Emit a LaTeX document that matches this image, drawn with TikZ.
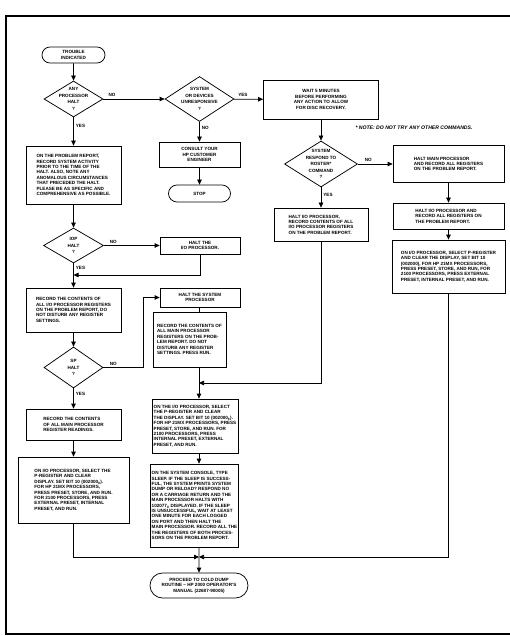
\documentclass[tikz,border=0pt]{standalone}
\usepackage{fontspec}
\setmainfont{Liberation Sans}
\usetikzlibrary{arrows.meta,shapes.geometric,shapes.misc}

\begin{document}
\begin{tikzpicture}[x=1pt, y=-1pt, >={Triangle[length=5pt,width=4.5pt]},
   line width=0.75pt, font=\fontsize{4.6}{5.4}\selectfont\bfseries,
   box/.style={draw, align=left, inner sep=1pt},
   cbox/.style={box, align=center},
   term/.style={draw, rounded rectangle, align=center, inner sep=1pt},
   decide/.style={draw, diamond, inner sep=-12pt, align=center,
                  font=\fontsize{4.6}{6.6}\selectfont\bfseries},
   lbl/.style={font=\fontsize{4.6}{5.4}\selectfont\bfseries, inner sep=1pt}]
  \useasboundingbox (0,0) rectangle (510,636);
  \draw[line width=2pt] (514,16) -- (6,16) -- (6,634) -- (514,634);

  % left column
  \node[term, minimum width=65, minimum height=16] (trouble) at (73.5,55) {TROUBLE\\INDICATED};
  \node[decide, minimum width=59, minimum height=36] (anyhalt) at (73.5,99) {ANY\\PROCESSOR\\HALT\\?};
  \node[box, minimum width=95, minimum height=58] (record) at (73.5,175)
    {ON THE PROBLEM REPORT,\\RECORD SYSTEM ACTIVITY\\PRIOR TO THE TIME OF THE\\HALT. ALSO, NOTE ANY\\ANOMALOUS CIRCUMSTANCES\\THAT PRECEDED THE HALT.\\PLEASE BE AS SPECIFIC AND\\COMPREHENSIVE AS POSSIBLE.};
  \node[decide, minimum width=60, minimum height=35] (iophalt) at (73.5,245.5) {IOP\\HALT\\?};
  \node[box, minimum width=95, minimum height=44] (recio) at (73.5,310)
    {RECORD THE CONTENTS OF\\ALL I/O PROCESSOR REGISTERS\\ON THE PROBLEM REPORT, DO\\NOT DISTURB ANY REGISTER\\SETTINGS.};
  \node[decide, minimum width=59, minimum height=41] (sphalt) at (73.5,367.5) {SP\\HALT\\?};
  \node[box, minimum width=95, minimum height=31] (recreg) at (73.5,424.5)
    {RECORD THE CONTENTS\\OF ALL MAIN PROCESSOR\\REGISTER READINGS.};
  \node[box, minimum width=111, minimum height=66] (lselect) at (73.5,490)
    {ON I/O PROCESSOR, SELECT THE\\P-REGISTER AND CLEAR\\DISPLAY. SET BIT 10 (002000\textsubscript{8}).\\FOR HP 21MX PROCESSORS,\\PRESS PRESET, STORE, AND RUN.\\FOR 2100 PROCESSORS, PRESS\\EXTERNAL PRESET, INTERNAL\\PRESET, AND RUN.};

  % middle column
  \node[decide, minimum width=69, minimum height=45] (sysdown) at (199.5,99) {SYSTEM\\OR DEVICES\\UNRESPONSIVE\\?};
  \node[cbox, minimum width=81, minimum height=25] (consult) at (199.5,154.5) {CONSULT YOUR\\HP CUSTOMER\\ENGINEER};
  \node[term, minimum width=64, minimum height=17] (stop) at (199.5,193.5) {STOP};
  \node[cbox, minimum width=80, minimum height=17] (haltio) at (200,245.5) {HALT THE\\I/O PROCESSOR.};
  \node[cbox, minimum width=80, minimum height=19] (haltsp) at (200,297.5) {HALT THE SYSTEM\\PROCESSOR};
  \node[box, minimum width=73, minimum height=55] (recmain) at (189.5,339.5)
    {RECORD THE CONTENTS OF\\ALL MAIN PROCESSOR\\REGISTERS ON THE PROB-\\LEM REPORT. DO NOT\\DISTURB ANY REGISTER\\SETTINGS.  PRESS RUN.};
  \node[box, minimum width=86, minimum height=54] (selio) at (195,426)
    {ON THE I/O PROCESSOR, SELECT\\THE P-REGISTER AND CLEAR\\THE DISPLAY.  SET BIT 10 (002000\textsubscript{8}).\\FOR HP 21MX PROCESSORS, PRESS\\PRESET, STORE, AND RUN.  FOR\\2100 PROCESSORS, PRESS\\INTERNAL PRESET, EXTERNAL\\PRESET, AND RUN.};
  \node[box, minimum width=85, minimum height=83] (sleep) at (194.5,505.5)
    {ON THE SYSTEM CONSOLE, TYPE\\SLEEP. IF THE SLEEP IS SUCCESS-\\FUL, THE SYSTEM PRINTS SYSTEM\\DUMP OR RELOAD? RESPOND NO\\OR A CARRIAGE RETURN AND THE\\MAIN PROCESSOR HALTS WITH\\102077\textsubscript{8} DISPLAYED. IF THE SLEEP\\IS UNSUCCESSFUL, WAIT AT LEAST\\ONE MINUTE FOR EACH LOGGED\\ON PORT AND THEN HALT THE\\MAIN PROCESSOR. RECORD ALL THE\\THE REGISTERS OF BOTH PROCES-\\SORS ON THE PROBLEM REPORT.};
  \node[term, minimum width=100, minimum height=25] (coldump) at (199,585.5)
    {PROCEED TO COLD DUMP\\ROUTINE -- HP 2000 OPERATOR'S\\MANUAL (22687-90005)};

  % right columns
  \node[cbox, minimum width=115, minimum height=39] (wait) at (321,99.5)
    {WAIT 5 MINUTES\\BEFORE PERFORMING\\ANY ACTION TO ALLOW\\FOR DISC RECOVERY.};
  \node[lbl, font=\fontsize{5.1}{5.4}\selectfont\bfseries\itshape] (note) at (414,128) {* NOTE: DO NOT TRY ANY OTHER COMMANDS.};
  \node[decide, minimum width=73, minimum height=46] (roster) at (321,164) {SYSTEM\\RESPOND TO\\ROSTER*\\COMMAND\\?};
  \node[box, minimum width=94, minimum height=33] (rhaltio) at (321,224.5)
    {HALT I/O PROCESSOR,\\RECORD CONTENTS OF ALL\\I/O PROCESSOR REGISTERS\\ON THE PROBLEM REPORT.};
  \node[box, minimum width=111, minimum height=37] (haltmain) at (448.5,164)
    {HALT MAIN PROCESSOR\\AND RECORD ALL REGISTERS\\ON THE PROBLEM REPORT.};
  \node[box, minimum width=111, minimum height=26] (haltio2) at (448.5,216)
    {HALT I/O PROCESSOR AND\\RECORD ALL REGISTERS ON\\THE PROBLEM REPORT.};
  \node[box, minimum width=113, minimum height=53] (rselect) at (448.5,266.5)
    {ON I/O PROCESSOR, SELECT P-REGISTER\\AND CLEAR THE DISPLAY, SET BIT 10\\(002000), FOR HP 21MX PROCESSORS,\\PRESS PRESET, STORE, AND RUN, FOR\\2100 PROCESSORS, PRESS EXTERNAL\\PRESET, INTERNAL PRESET, AND RUN.};

  \coordinate (iopjoin) at (73.5,275);
  \coordinate (merge1) at (199,383);
  \coordinate (merge2) at (199,557);

  % connectors
  \draw[->] (trouble) -- (anyhalt);
  \draw[->] (anyhalt) -- node[lbl, pos=0.14, above=1pt]{NO} (sysdown);
  \draw[->] (anyhalt) -- node[lbl, pos=0.3, right=1pt]{YES} (record);
  \draw[->] (record) -- (iophalt);
  \draw[->] (iophalt) -- node[lbl, pos=0.17, above=1pt]{NO} (haltio);
  \draw[->] (haltio.south) |- (iopjoin);
  \draw[->] (iophalt) -- node[lbl, pos=0.2, right=1pt]{YES} (recio);
  \draw[->] (recio) -- (sphalt);
  \draw[->] (sphalt.east) -- node[lbl, pos=0.25, above=1pt]{NO} ++(40,0) |- (haltsp.west);
  \draw[->] (sphalt) -- node[lbl, pos=0.25, right=1pt]{YES} (recreg);
  \draw[->] (recreg) -- (lselect);
  \draw (haltsp.south -| merge1) -- (merge1 |- recmain.north);
  \draw[->] (recmain.south -| merge1) -- (merge1 |- selio.north);
  \draw[->] (rhaltio.south) |- (merge1);
  \draw[->] (selio.south -| merge1) -- (merge1 |- sleep.north);
  \draw[->] (sleep.south -| coldump) -- (coldump);
  \draw[->] (lselect.south) |- (merge2);
  \draw[->] (rselect.south) |- (merge2);
  \draw[->] (sysdown) -- node[lbl, pos=0.3, above=1pt]{YES} (wait);
  \draw[->] (sysdown) -- node[lbl, pos=0.3, right=1pt]{NO} (consult);
  \draw[->] (consult) -- (stop);
  \draw[->] (wait) -- (roster);
  \draw[->] (roster) -- node[lbl, pos=0.3, above=1pt]{NO} (haltmain);
  \draw[->] (roster) -- node[lbl, pos=0.35, right=1pt]{YES} (rhaltio);
  \draw[->] (haltmain) -- (haltio2);
  \draw[->] (haltio2) -- (rselect);
\end{tikzpicture}
\end{document}
